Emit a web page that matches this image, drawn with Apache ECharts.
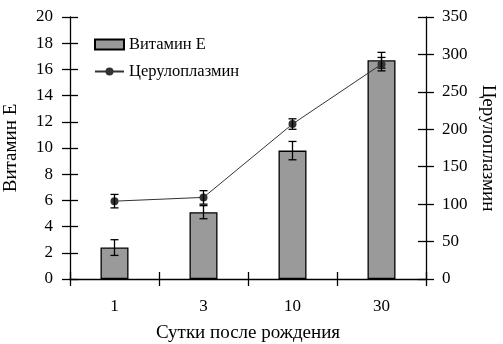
<!DOCTYPE html>
<html><head><meta charset="utf-8">
<script src="https://cdn.jsdelivr.net/npm/echarts@6/dist/echarts.min.js"></script>
<style>html,body{margin:0;padding:0;background:#fff}#c{width:503px;height:344px}</style>
</head><body><div id="c"></div>
<script>
const categories = ['1', '3', '10', '30'];
const vitaminE = [2.4, 5.1, 9.8, 16.7];
const vitaminEErr = [0.6, 0.5, 0.7, 0.6];
const ceruloplasmin = [104, 109, 207, 287];
const ceruloplasminErr = [9, 9, 7, 9];
const leftTicks = { min: 0, max: 20, interval: 2 };
const rightTicks = { min: 0, max: 350, interval: 50 };

const FONT = 'Liberation Serif, Times New Roman, serif';
const chart = echarts.init(document.getElementById('c'));

function errSeries(name, values, errs, yIdx, z) {
  return {
    name: name, type: 'custom', yAxisIndex: yIdx, z: z, silent: true,
    data: values.map((v, i) => [i, v - errs[i], v + errs[i]]),
    renderItem: function (params, api) {
      const lo = api.coord([api.value(0), api.value(1)]);
      const hi = api.coord([api.value(0), api.value(2)]);
      const w = 4;
      const st = { stroke: '#000', lineWidth: 1.3 };
      return { type: 'group', children: [
        { type: 'line', shape: { x1: lo[0], y1: lo[1], x2: hi[0], y2: hi[1] }, style: st },
        { type: 'line', shape: { x1: lo[0] - w, y1: lo[1], x2: lo[0] + w, y2: lo[1] }, style: st },
        { type: 'line', shape: { x1: hi[0] - w, y1: hi[1], x2: hi[0] + w, y2: hi[1] }, style: st }
      ]};
    }
  };
}

const axisLabelStyle = { color: '#000', fontFamily: FONT, fontSize: 17 };
const nameStyle = { color: '#000', fontFamily: FONT, fontSize: 19 };

chart.setOption({
  animation: false,
  backgroundColor: '#fff',
  grid: { left: 70, right: 77, top: 17, bottom: 65, containLabel: false, outerBoundsMode: 'none' },
  legend: {
    orient: 'vertical', left: 89, top: 31, itemWidth: 29, itemHeight: 10, itemGap: 10,
    textStyle: { color: '#000', fontFamily: FONT, fontSize: 16.5 },
    data: [
      { name: 'Витамин Е', icon: 'rect' },
      { name: 'Церулоплазмин' }
    ]
  },
  xAxis: [
    {
      type: 'category', data: categories, position: 'bottom',
      name: 'Сутки после рождения', nameLocation: 'middle', nameGap: 45,
      nameTextStyle: nameStyle,
      axisLine: { lineStyle: { color: '#000', width: 1.3 } },
      axisTick: { show: true, length: 7, lineStyle: { color: '#000', width: 1.3 } },
      axisLabel: Object.assign({ margin: 19 }, axisLabelStyle),
      splitLine: { show: false }
    },
    {
      type: 'category', data: categories, position: 'bottom', gridIndex: 0,
      axisLine: { show: false },
      axisTick: { show: true, inside: true, length: 7, lineStyle: { color: '#000', width: 1.3 } },
      axisLabel: { show: false }, splitLine: { show: false }
    }
  ],
  yAxis: [
    {
      type: 'value', position: 'left', min: leftTicks.min, max: leftTicks.max, interval: leftTicks.interval,
      name: 'Витамин Е', nameLocation: 'middle', nameGap: 49, nameRotate: 90,
      nameTextStyle: nameStyle,
      axisLine: { show: true, lineStyle: { color: '#000', width: 1.3 } },
      axisTick: { show: true, length: 8, lineStyle: { color: '#000', width: 1.3 } },
      axisLabel: Object.assign({ margin: 17 }, axisLabelStyle),
      splitLine: { show: false }
    },
    {
      type: 'value', position: 'right', min: rightTicks.min, max: rightTicks.max, interval: rightTicks.interval,
      name: 'Церулоплазмин', nameLocation: 'middle', nameGap: 52, nameRotate: -90,
      nameTextStyle: nameStyle,
      axisLine: { show: true, lineStyle: { color: '#000', width: 1.3 } },
      axisTick: { show: true, length: 8, lineStyle: { color: '#000', width: 1.3 } },
      axisLabel: Object.assign({ margin: 16 }, axisLabelStyle),
      splitLine: { show: false }
    },
    {
      type: 'value', position: 'left', min: leftTicks.min, max: leftTicks.max, interval: leftTicks.interval,
      axisLine: { show: false },
      axisTick: { show: true, inside: true, length: 8, lineStyle: { color: '#000', width: 1.3 } },
      axisLabel: { show: false }, splitLine: { show: false }
    },
    {
      type: 'value', position: 'right', min: rightTicks.min, max: rightTicks.max, interval: rightTicks.interval,
      axisLine: { show: false },
      axisTick: { show: true, inside: true, length: 8, lineStyle: { color: '#000', width: 1.3 } },
      axisLabel: { show: false }, splitLine: { show: false }
    }
  ],
  series: [
    {
      name: 'Витамин Е', type: 'bar', yAxisIndex: 0, barWidth: 28, z: 2,
      data: vitaminE,
      itemStyle: { color: '#9a9a9a', borderColor: '#000', borderWidth: 1.3 }
    },
    errSeries('errE', vitaminE, vitaminEErr, 0, 3),
    {
      name: 'Церулоплазмин', type: 'line', yAxisIndex: 1, z: 4,
      data: ceruloplasmin,
      symbol: 'circle', symbolSize: 8,
      lineStyle: { color: '#333', width: 1 },
      itemStyle: { color: '#333' }
    },
    errSeries('errC', ceruloplasmin, ceruloplasminErr, 1, 5)
  ]
});
</script></body></html>
